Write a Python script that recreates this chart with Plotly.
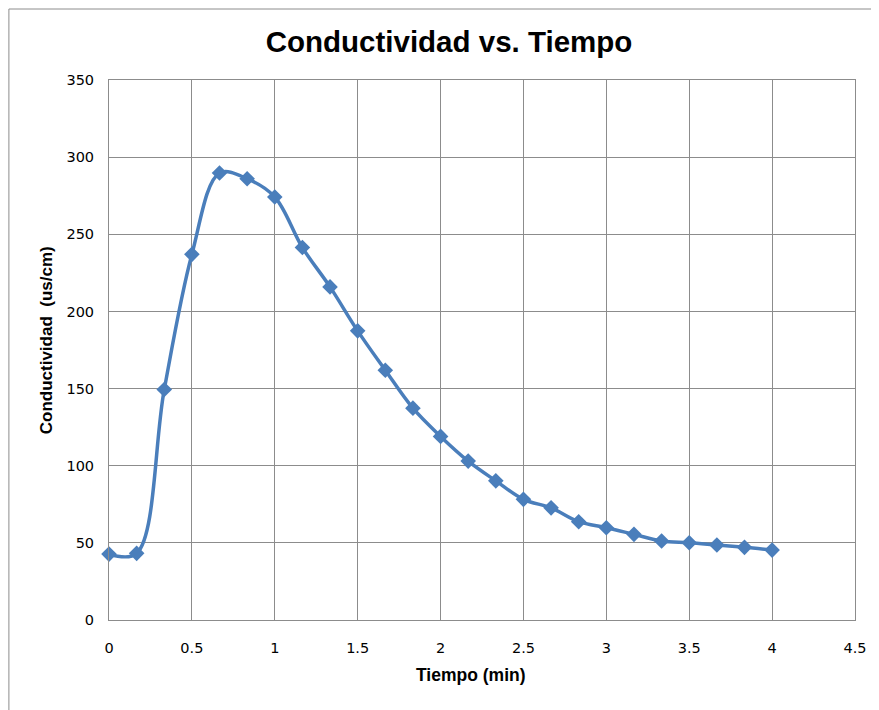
import plotly.graph_objects as go

tiempo_min = [0, 0.1667, 0.3333, 0.5, 0.6667, 0.8333, 1.0, 1.1667, 1.3333, 1.5,
              1.6667, 1.8333, 2.0, 2.1667, 2.3333, 2.5, 2.6667, 2.8333, 3.0,
              3.1667, 3.3333, 3.5, 3.6667, 3.8333, 4.0]
conductividad = [42.7, 43.2, 149.4, 237.0, 289.7, 286.0, 274.2, 241.4, 215.9, 187.4,
                 161.9, 137.3, 119.0, 103.0, 90.2, 78.2, 72.7, 63.7, 59.8,
                 55.5, 51.2, 50.1, 48.6, 47.1, 45.3]

x_ticks = [0, 0.5, 1, 1.5, 2, 2.5, 3, 3.5, 4, 4.5]
y_ticks = [0, 50, 100, 150, 200, 250, 300, 350]

# page body has an 8px margin; work in reference-pixel coordinates minus offset
OFF = 8
W, H = 879 - OFF, 710 - OFF
L, T = 109 - OFF, 80 - OFF
pw, ph = 749, 540
R = W - L - pw
B = H - T - ph

def px(x):
    return (x - OFF - L) / pw

def py(y):
    return (T + ph - (y - OFF)) / ph

fig = go.Figure()
fig.add_trace(go.Scatter(
    x=tiempo_min, y=conductividad, mode="lines+markers",
    line=dict(color="#4A7EBB", width=3.5, shape="spline", smoothing=1),
    marker=dict(symbol="diamond", size=12, color="#4A7EBB"),
    showlegend=False, cliponaxis=False,
))

grid = "#8C8C8C"
tickfont = dict(family="DejaVu Sans, sans-serif", size=14.5, color="#000000")
fig.update_xaxes(range=[0, 4.5], tickvals=x_ticks, ticktext=[str(v) for v in x_ticks],
                 showgrid=True, gridcolor=grid, gridwidth=1,
                 showline=True, linecolor=grid, linewidth=1, mirror=True,
                 zeroline=False, ticks="", tickfont=tickfont, ticklabelstandoff=15)
fig.update_yaxes(range=[0, 350], tickvals=y_ticks,
                 showgrid=True, gridcolor=grid, gridwidth=1,
                 showline=True, linecolor=grid, linewidth=1, mirror=True,
                 zeroline=False, ticks="", tickfont=tickfont, ticklabelstandoff=11)

fig.update_layout(
    width=W, height=H,
    margin=dict(l=L, r=R, t=T, b=B),
    paper_bgcolor="white", plot_bgcolor="white",
    title=dict(text="<b>Conductividad vs. Tiempo</b>", x=(449 - OFF) / W, xanchor="center",
               y=1 - (42 - OFF) / H, yanchor="middle",
               font=dict(family="Liberation Sans, Arial, sans-serif", size=29.5, color="#000000")),
    annotations=[
        dict(text="<b>Tiempo (min)</b>", x=px(472), y=py(675), xref="paper", yref="paper",
             showarrow=False, xanchor="center", yanchor="middle",
             font=dict(family="Liberation Sans, Arial, sans-serif", size=17.5, color="#000000")),
        dict(text="<b>Conductividad  (us/cm)</b>", x=px(46), y=py(340), xref="paper", yref="paper",
             showarrow=False, xanchor="center", yanchor="middle", textangle=-90,
             font=dict(family="Liberation Sans, Arial, sans-serif", size=17, color="#000000")),
    ],
    shapes=[
        dict(type="rect", xref="paper", yref="paper",
             x0=px(8.5), x1=px(900), y0=py(730), y1=py(9),
             line=dict(color="#8C8C8C", width=1), layer="below"),
    ],
)

fig.write_html("out.html")
